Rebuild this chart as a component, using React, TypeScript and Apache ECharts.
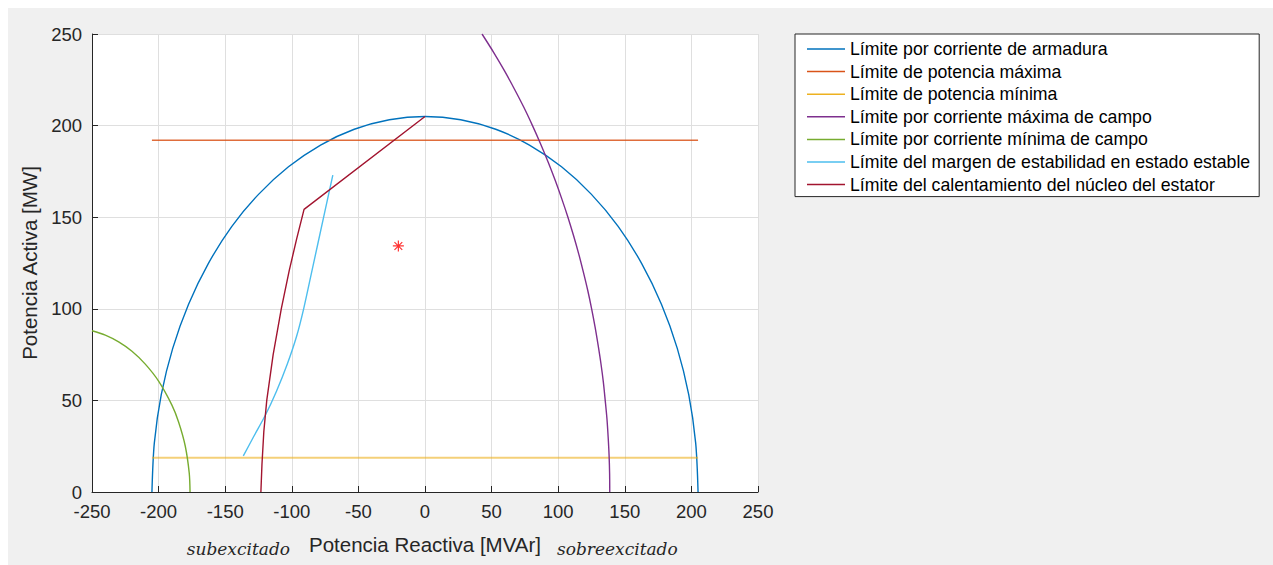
import { useEffect, useRef } from 'react';
import * as echarts from 'echarts';

const FONT = '"Liberation Sans", Arial, sans-serif';

const seriesNames = [
  'Límite por corriente de armadura',
  'Límite de potencia máxima',
  'Límite de potencia mínima',
  'Límite por corriente máxima de campo',
  'Límite por corriente mínima de campo',
  'Límite del margen de estabilidad en estado estable',
  'Límite del calentamiento del núcleo del estator',
];
const seriesColors = ['#0072BD', '#D95319', '#EDB120', '#7E2F8E', '#77AC30', '#4DBEEE', '#A2142F'];

// [Q (MVAr), P (MW)] pairs
const armadura: number[][] = [
  [205, 0], [203.2, 26.8], [198.0, 53.1], [189.4, 78.4], [177.5, 102.5], [162.6, 124.8],
  [145.0, 145.0], [124.8, 162.6], [102.5, 177.5], [78.4, 189.4], [53.1, 198.0], [26.8, 203.2],
  [0, 205], [-26.8, 203.2], [-53.1, 198.0], [-78.4, 189.4], [-102.5, 177.5], [-124.8, 162.6],
  [-145.0, 145.0], [-162.6, 124.8], [-177.5, 102.5], [-189.4, 78.4], [-198.0, 53.1],
  [-203.2, 26.8], [-205, 0],
];
const potenciaMax: number[][] = [[-205, 192], [205, 192]];
const potenciaMin: number[][] = [[-205, 18.7], [205, 18.7]];
const campoMax: number[][] = [
  [42.8, 250], [51.5, 240], [59.6, 230], [67.1, 220], [74.2, 210], [80.7, 200], [86.8, 190],
  [92.5, 180], [97.8, 170], [102.7, 160], [107.3, 150], [111.5, 140], [115.4, 130],
  [118.9, 120], [122.2, 110], [125.1, 100], [127.7, 90], [130.0, 80], [132.1, 70],
  [133.9, 60], [135.3, 50], [136.6, 40], [137.5, 30], [138.2, 20], [138.6, 10], [138.7, 0],
];
const campoMin: number[][] = [
  [-250, 88.0], [-240, 85.6], [-230, 81.9], [-220, 76.8], [-210, 69.8], [-200, 60.5],
  [-190, 47.4], [-185, 38.2], [-180, 25.1], [-177, 10.3], [-176.4, 0],
];
const estabilidad: number[][] = [
  [-136.4, 19.7], [-128.8, 30], [-119.8, 42], [-111.5, 55], [-103.3, 70], [-96.4, 85],
  [-91.1, 100], [-84.8, 121], [-76.1, 150], [-69.2, 173],
];
const estator: number[][] = [
  [-123.2, 0], [-122.4, 15], [-121.0, 33], [-118.8, 50], [-114.0, 75], [-107.9, 100],
  [-101.9, 121], [-96.4, 138], [-90.8, 154.3], [0, 205],
];
const puntoOperacion: number[][] = [[-20, 134.3]];

const seriesData = [armadura, potenciaMax, potenciaMin, campoMax, campoMin, estabilidad, estator];
const seriesSmooth = [true, false, false, true, true, true, false];
const seriesWidth = [1.4, 1.6, 2.2, 1.4, 1.4, 1.4, 1.4];
const seriesOpacity = [1, 0.85, 0.6, 1, 1, 1, 1];

export default function App() {
  const ref = useRef<HTMLDivElement>(null);
  useEffect(() => {
    const chart = echarts.init(ref.current!, null, { renderer: 'svg' });
    const lineSeries = seriesNames.map((name, i) => ({
      type: 'line',
      name,
      data: seriesData[i],
      symbol: 'none',
      smooth: seriesSmooth[i] ? 0.3 : false,
      lineStyle: { color: seriesColors[i], width: seriesWidth[i], opacity: seriesOpacity[i] },
      itemStyle: { color: seriesColors[i] },
      z: 3,
    }));
    const axisCommon = {
      type: 'value',
      axisLine: { show: true, onZero: false, lineStyle: { color: '#262626', width: 1 } },
      axisTick: { show: true, inside: true, length: 6, lineStyle: { color: '#262626' } },
      axisLabel: { color: '#262626', fontSize: 18.5, fontFamily: FONT },
      splitLine: { show: true, lineStyle: { color: '#dfdfdf', width: 1 } },
      nameLocation: 'middle',
      nameTextStyle: { color: '#262626', fontSize: 20.5, fontFamily: FONT },
    };
    chart.setOption({
      animation: false,
      backgroundColor: '#f0f0f0',
      grid: {
        left: 84, top: 26, width: 666, height: 458,
        show: true, backgroundColor: '#ffffff', borderWidth: 0,
      },
      xAxis: {
        ...axisCommon,
        min: -250, max: 250, interval: 50,
        axisLabel: { ...axisCommon.axisLabel, margin: 10 },
        name: 'Potencia Reactiva [MVAr]',
        nameGap: 42,
      },
      yAxis: {
        ...axisCommon,
        min: 0, max: 250, interval: 50,
        axisLabel: { ...axisCommon.axisLabel, margin: 10 },
        name: 'Potencia Activa [MW]',
        nameGap: 48,
      },
      legend: {
        show: true,
        orient: 'vertical',
        left: 787,
        top: 26,
        data: seriesNames,
        icon: 'rect',
        itemWidth: 38,
        itemHeight: 1.5,
        itemGap: 4.6,
        padding: [6, 9, 3, 12],
        backgroundColor: '#ffffff',
        borderColor: '#262626',
        borderWidth: 1,
        borderRadius: 0,
        selectedMode: false,
        textStyle: { fontSize: 17.7, color: '#000000', fontFamily: FONT, lineHeight: 18 },
      },
      graphic: [
        {
          type: 'text',
          x: 282,
          y: 541,
          style: {
            text: 'subexcitado',
            fontSize: 17,
            fontStyle: 'italic',
            fontFamily: '"DejaVu Serif", serif',
            fill: '#262626',
            textAlign: 'right', align: 'right',
            textVerticalAlign: 'middle', verticalAlign: 'middle',
          },
        },
        {
          type: 'text',
          x: 549,
          y: 541,
          style: {
            text: 'sobreexcitado',
            fontSize: 17,
            fontStyle: 'italic',
            fontFamily: '"DejaVu Serif", serif',
            fill: '#262626',
            textAlign: 'left', align: 'left',
            textVerticalAlign: 'middle', verticalAlign: 'middle',
          },
        },
      ],
      series: [
        ...lineSeries,
        {
          type: 'scatter',
          name: 'Punto de operación',
          data: puntoOperacion,
          symbol: 'path://M5,0 L5,10 M0,5 L10,5 M1.46,1.46 L8.54,8.54 M8.54,1.46 L1.46,8.54',
          symbolSize: 11,
          itemStyle: { color: '#ff0000', borderColor: '#ff0000', borderWidth: 1.2 },
          z: 5,
        },
      ],
    });
    return () => chart.dispose();
  }, []);
  return (
    <div
      ref={ref}
      style={{ position: 'absolute', left: 8, top: 8, width: 1265, height: 557 }}
    />
  );
}
